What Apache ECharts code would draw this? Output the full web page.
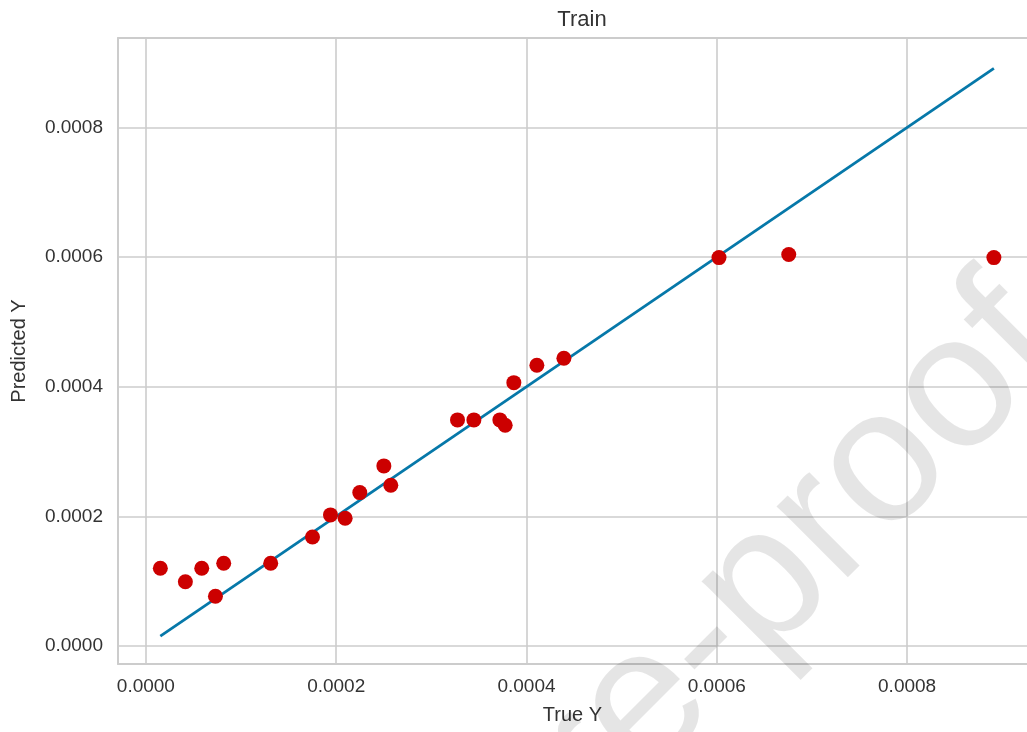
<!DOCTYPE html>
<html>
<head>
<meta charset="utf-8">
<script src="https://cdn.jsdelivr.net/npm/echarts@6/dist/echarts.min.js"></script>
<style>
  html, body { margin: 0; padding: 0; background: #fff; }
  #chart { width: 1027px; height: 732px; }
</style>
</head>
<body>
<div id="chart"></div>
<script>
// values
var trueY = [0.0000152, 0.0000415, 0.0000587, 0.0000818, 0.0000731, 0.0001312, 0.0001751,
  0.0001940, 0.0002094, 0.0002248, 0.0002501, 0.0002574, 0.0003275, 0.0003447, 0.0003720,
  0.0003776, 0.0003867, 0.0004109, 0.0004393, 0.0006023, 0.0006756, 0.0008912];
var predY = [0.0001199, 0.0000992, 0.0001199, 0.0001276, 0.0000767, 0.0001276, 0.0001682,
  0.0002022, 0.0001971, 0.0002366, 0.0002778, 0.0002480, 0.0003488, 0.0003488, 0.0003488,
  0.0003406, 0.0004063, 0.0004332, 0.0004440, 0.0005992, 0.0006039, 0.0005992];
var xTicks = [0, 0.0002, 0.0004, 0.0006, 0.0008];
var yTicks = [0, 0.0002, 0.0004, 0.0006, 0.0008];

var points = trueY.map(function (t, i) { return [t, predY[i]]; });
var lo = Math.min.apply(null, trueY);
var hi = Math.max.apply(null, trueY);
var diag = [[lo, lo], [hi, hi]];

var txt = '#333333';
var gridCol = '#cccccc';
var font = 'Liberation Sans, Arial, sans-serif';
var xMin = -0.0000293, xMax = 0.000926;

var chart = echarts.init(document.getElementById('chart'));
var option = {
  backgroundColor: '#ffffff',
  animation: false,
  title: {
    text: 'Train',
    left: 577,
    top: 4,
    textAlign: 'center',
    textStyle: { fontSize: 22, fontWeight: 'normal', color: txt, fontFamily: font }
  },
  grid: { left: 118, top: 38, right: 0, bottom: 68 },
  xAxis: [{
    type: 'value',
    min: xMin,
    max: xMax,
    name: 'True Y',
    nameLocation: 'middle',
    nameGap: 41,
    nameTextStyle: { fontSize: 20, color: txt, fontFamily: font },
    axisLine: { show: true, onZero: false, lineStyle: { color: gridCol, width: 2 } },
    axisTick: { show: false, customValues: xTicks },
    splitLine: { show: true, lineStyle: { color: gridCol, width: 1.6 } },
    axisLabel: {
      customValues: xTicks,
      margin: 13,
      fontSize: 19,
      color: txt,
      fontFamily: font,
      formatter: function (v) { return v.toFixed(4); }
    }
  }, {
    // top spine only
    type: 'value',
    position: 'top',
    min: xMin,
    max: xMax,
    axisLine: { show: true, onZero: false, lineStyle: { color: gridCol, width: 2 } },
    axisTick: { show: false },
    axisLabel: { show: false },
    splitLine: { show: false }
  }],
  yAxis: {
    type: 'value',
    min: -0.0000278,
    max: 0.000938,
    name: 'Predicted Y',
    nameLocation: 'middle',
    nameGap: 89,
    nameTextStyle: { fontSize: 20, color: txt, fontFamily: font },
    axisLine: { show: true, onZero: false, lineStyle: { color: gridCol, width: 2 } },
    axisTick: { show: false, customValues: yTicks },
    splitLine: { show: true, lineStyle: { color: gridCol, width: 1.6 } },
    axisLabel: {
      customValues: yTicks,
      margin: 15,
      fontSize: 19,
      color: txt,
      fontFamily: font,
      formatter: function (v) { return v.toFixed(4); }
    }
  },
  series: [
    {
      type: 'line',
      data: diag,
      symbol: 'none',
      z: 2,
      lineStyle: { color: '#0678a9', width: 2.8 }
    },
    {
      type: 'scatter',
      data: points,
      symbolSize: 15,
      z: 3,
      itemStyle: { color: '#cc0000', opacity: 1 }
    }
  ],
  graphic: [{
    type: 'text',
    x: -5,
    y: 1356,
    rotation: Math.PI / 4,
    z: 100,
    silent: true,
    style: {
      text: 'Journal Pre-proof',
      fill: 'rgba(0,0,0,0.1)',
      font: '190px Liberation Sans, Arial, sans-serif',
      textAlign: 'left',
      textVerticalAlign: 'middle'
    }
  }]
};
if (option) {
  chart.setOption(option);
}
</script>
</body>
</html>
